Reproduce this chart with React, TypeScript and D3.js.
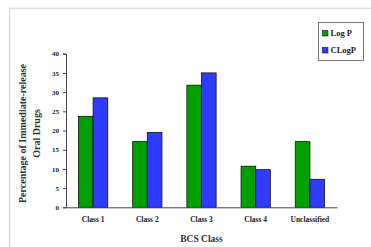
import React, { FC, useEffect, useRef } from "react"
import { select, scaleBand, scaleLinear, axisLeft, axisBottom } from "d3"

const categories = ["Class 1", "Class 2", "Class 3", "Class 4", "Unclassified"]
const seriesNames = ["Log P", "CLogP"]
const logP = [23.7, 17.1, 31.8, 10.7, 17.1]
const cLogP = [28.5, 19.5, 35.0, 9.8, 7.3]
const yTicks = [0, 5, 10, 15, 20, 25, 30, 35, 40]
const colors = ["#00a000", "#2f3cff"]

const App: FC = () => {
  const ref = useRef<SVGSVGElement>(null)

  useEffect(() => {
    const svg = select(ref.current)
    svg.selectAll("*").remove()

    const width = 371
    const height = 247
    const margins = { top: 53.7, right: 34, bottom: 39.7, left: 66 }
    const boundsWidth = width - margins.left - margins.right
    const boundsHeight = height - margins.top - margins.bottom
    const font = "Liberation Serif"

    // frame
    svg
      .append("path")
      .attr("d", `M9.5,${height} V8.5 H${width}`)
      .attr("fill", "none")
      .attr("stroke", "#dcdcdc")
      .attr("stroke-width", 1.5)

    const bounds = svg
      .append("g")
      .attr("transform", `translate(${margins.left},${margins.top})`)

    // scales
    const xScale = scaleBand<string>()
      .domain(categories)
      .range([0, boundsWidth])
      .paddingInner(0.46)
      .paddingOuter(0.23)
    const subScale = scaleBand<number>()
      .domain([0, 1])
      .range([0, xScale.bandwidth()])
    const yScale = scaleLinear().domain([0, 40]).range([boundsHeight, 0])

    // bars
    const series = [logP, cLogP]
    series.forEach((values, si) => {
      bounds
        .append("g")
        .selectAll("rect")
        .data(values)
        .join("rect")
        .attr("x", (_, i) => (xScale(categories[i]) ?? 0) + (subScale(si) ?? 0))
        .attr("y", (d) => yScale(d))
        .attr("width", subScale.bandwidth())
        .attr("height", (d) => boundsHeight - yScale(d))
        .attr("fill", colors[si])
        .attr("stroke", "#111")
        .attr("stroke-width", 0.8)
    })

    // y axis
    const yAxis = bounds
      .append("g")
      .call(axisLeft(yScale).tickValues(yTicks).tickSize(3).tickPadding(4))
    yAxis.attr("font-family", font).attr("font-size", 7).attr("font-weight", "bold")
    yAxis.select(".domain").attr("stroke", "#444")
    yAxis.selectAll(".tick line").attr("stroke", "#444")
    yAxis.selectAll("text").attr("fill", "#222")

    // x axis
    const xAxis = bounds
      .append("g")
      .attr("transform", `translate(0,${boundsHeight})`)
      .call(axisBottom(xScale).tickSize(0).tickPadding(9))
    xAxis.attr("font-family", font).attr("font-size", 7.5).attr("font-weight", "bold")
    xAxis.select(".domain").attr("stroke", "#444")
    xAxis.selectAll("text").attr("fill", "#222")

    // axis titles
    svg
      .append("text")
      .attr("x", margins.left + boundsWidth / 2)
      .attr("y", 242)
      .attr("text-anchor", "middle")
      .attr("font-family", font)
      .attr("font-weight", "bold")
      .attr("font-size", 9.5)
      .attr("fill", "#333")
      .text("BCS Class")

    const yTitle = svg
      .append("text")
      .attr("transform", `translate(0,${margins.top + boundsHeight / 2 + 3}) rotate(-90)`)
      .attr("text-anchor", "middle")
      .attr("font-family", font)
      .attr("font-weight", "bold")
      .attr("font-size", 10)
      .attr("fill", "#333")
    yTitle.append("tspan").attr("x", 0).attr("y", 26).text("Percentage of Immediate-release")
    yTitle.append("tspan").attr("x", 0).attr("y", 40).text("Oral Drugs")

    // legend
    const legend = svg.append("g").attr("transform", "translate(318.5,22.5)")
    legend
      .append("rect")
      .attr("width", 45)
      .attr("height", 38)
      .attr("fill", "#fff")
      .attr("stroke", "#777")
      .attr("stroke-width", 1)
    seriesNames.forEach((name, i) => {
      const g = legend.append("g").attr("transform", `translate(4,${8 + i * 17})`)
      g.append("rect")
        .attr("width", 5.5)
        .attr("height", 5.5)
        .attr("fill", colors[i])
        .attr("stroke", "#111")
        .attr("stroke-width", 0.6)
      g.append("text")
        .attr("x", 8)
        .attr("y", 5.5)
        .attr("font-family", font)
        .attr("font-weight", "bold")
        .attr("font-size", 8.5)
        .attr("fill", "#222")
        .text(name)
    })
  }, [])

  return (
    <svg
      ref={ref}
      width={371}
      height={247}
      style={{ position: "absolute", left: 0, top: 0, background: "#fff" }}
    />
  )
}

export default App
